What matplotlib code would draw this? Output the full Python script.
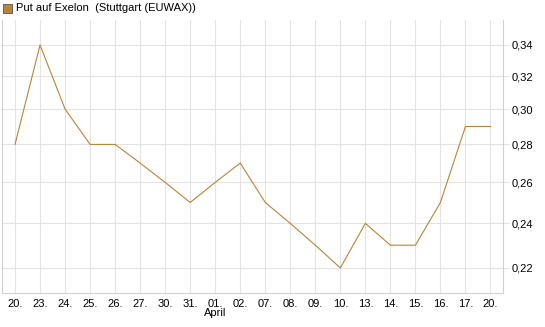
import numpy as np
import matplotlib
matplotlib.use("Agg")
import matplotlib.pyplot as plt
import matplotlib.patches as mpatches
from matplotlib.ticker import FixedLocator, NullLocator

plt.rcParams['font.family'] = ['Liberation Sans', 'DejaVu Sans']

# data
dates = ["20.", "23.", "24.", "25.", "26.", "27.", "30.", "31.", "01.", "02.",
         "07.", "08.", "09.", "10.", "13.", "14.", "15.", "16.", "17.", "20."]
prices = [0.28, 0.34, 0.30, 0.28, 0.28, 0.27, 0.26, 0.25, 0.26, 0.27,
          0.25, 0.24, 0.23, 0.22, 0.24, 0.23, 0.23, 0.25, 0.29, 0.29]
y_ticks = [0.22, 0.24, 0.26, 0.28, 0.30, 0.32, 0.34]
month_label = "April"
month_index = 8
title = "Put auf Exelon  (Stuttgart (EUWAX))"

line_color = '#b5853a'
grid_color = '#e3e3e3'

fig = plt.figure(figsize=(5.45, 3.27), dpi=100)
ax = fig.add_axes([2 / 545, 34 / 327, 501 / 545, 273 / 327])

x = np.arange(len(dates))
ax.plot(x, prices, color=line_color, lw=0.8, zorder=3)

ax.set_yscale('log')
ax.set_ylim(0.2095, 0.357)
ax.set_xlim(-0.52, len(dates) - 1 + 0.5)

ax.yaxis.set_major_locator(FixedLocator(y_ticks))
ax.yaxis.set_minor_locator(NullLocator())
ax.set_yticklabels([f"{v:.2f}".replace('.', ',') for v in y_ticks])
ax.yaxis.tick_right()
ax.tick_params(axis='y', length=4, color=grid_color, labelsize=8, pad=2)

ax.set_xticks(x)
ax.set_xticklabels(dates)
ax.tick_params(axis='x', length=0, labelsize=8, pad=4)

ax.grid(True, color=grid_color, lw=0.8, zorder=0)
ax.spines['top'].set_visible(False)
for side in ['left', 'bottom', 'right']:
    ax.spines[side].set_color('#d0d0d0')

ax.text(month_index, -0.055, month_label, transform=ax.get_xaxis_transform(),
        ha='center', va='top', fontsize=8)

# legend box at top left
fig.patches.append(mpatches.Rectangle((3 / 545, 1 - 13 / 327), 9 / 545, 9 / 327,
                                      transform=fig.transFigure, facecolor=line_color,
                                      edgecolor='#555555', lw=0.6))
fig.text(16 / 545, 1 - 8 / 327, title, ha='left', va='center', fontsize=8)

fig.savefig("out.png", dpi=100)
